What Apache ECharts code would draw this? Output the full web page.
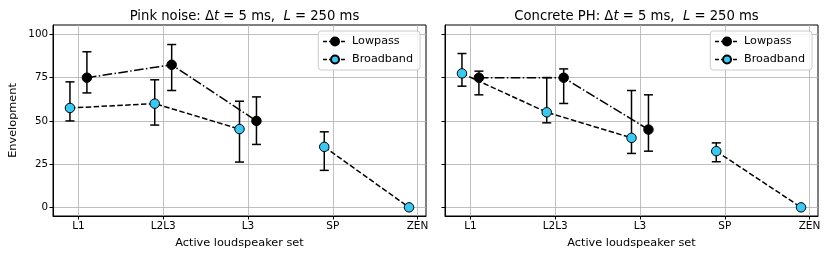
<!DOCTYPE html>
<html><head><meta charset="utf-8">
<script src="https://cdn.jsdelivr.net/npm/echarts@6/dist/echarts.min.js"></script>
<style>html,body{margin:0;padding:0;background:#fff}#c{width:830px;height:259px}</style>
</head><body><div id="c"></div>
<script>
const categories = ['L1','L2L3','L3','SP','ZEN'];
const yTicks = [0,25,50,75,100];
// Pink noise panel
const pinkLowpass = [75, 82.5, 50];
const pinkLowpassLo = [66.2, 67.6, 36.4];
const pinkLowpassHi = [90, 94.2, 63.9];
const pinkBroad = [57.5, 60, 45.3, 35, 0];
const pinkBroadLo = [50, 47.6, 26.2, 21.4, 0];
const pinkBroadHi = [72.6, 73.8, 61.4, 43.7, 0];
// Concrete PH panel
const concLowpass = [75, 75, 45];
const concLowpassLo = [65.1, 60.1, 32.5];
const concLowpassHi = [78.8, 80.1, 65.1];
const concBroad = [77.5, 55, 40.2, 32.5, 0];
const concBroadLo = [70.1, 48.9, 31.2, 26.4, 0];
const concBroadHi = [89, 75.1, 67.6, 37.3, 0];

const OFF = 0.1;
const FONT = 'DejaVu Sans';
const CYAN = '#38c9f5';
const DASH = [5.5, 2.4];
const DASHDOT = [9.6, 2.4, 1.5, 2.4];

function pts(vals, off, from, to) {
  const out = [];
  for (let i = from; i < to; i++) out.push([i + off, vals[i]]);
  return out;
}
function errData(vals, lo, hi, off) {
  return vals.map((v, i) => [i + off, lo[i], hi[i]]);
}
function errSeries(data, idx) {
  return {
    type: 'custom', xAxisIndex: idx, yAxisIndex: idx, z: 1, silent: true,
    data: data,
    renderItem: function (params, api) {
      const x = api.value(0), lo = api.value(1), hi = api.value(2);
      if (hi - lo <= 0) return null;
      const p1 = api.coord([x, lo]), p2 = api.coord([x, hi]);
      const c = 4.5;
      const st = { stroke: '#000', lineWidth: 1.5 };
      return { type: 'group', children: [
        { type: 'line', shape: { x1: p1[0], y1: p1[1], x2: p2[0], y2: p2[1] }, style: st },
        { type: 'line', shape: { x1: p1[0]-c, y1: p1[1], x2: p1[0]+c, y2: p1[1] }, style: st },
        { type: 'line', shape: { x1: p2[0]-c, y1: p2[1], x2: p2[0]+c, y2: p2[1] }, style: st }
      ]};
    }
  };
}
function lineSeries(name, data, idx, color, dash) {
  return {
    type: 'line', name: name, xAxisIndex: idx, yAxisIndex: idx, z: 3,
    data: data, symbol: 'circle', symbolSize: 9.5, animation: false,
    itemStyle: { color: color, borderColor: '#000', borderWidth: 1 },
    lineStyle: { color: '#000', width: 1.5, type: dash },
    emphasis: { disabled: true }
  };
}
function xAxis(idx) {
  return {
    type: 'value', gridIndex: idx, min: -0.3, max: 4.1,
    name: 'Active loudspeaker set', nameLocation: 'middle', nameGap: 22,
    nameTextStyle: { fontFamily: FONT, fontSize: 11.3, color: '#000' },
    axisLine: { show: true, onZero: false, lineStyle: { color: '#000', width: 1 } },
    axisTick: { show: true, length: 3.5, customValues: [0,1,2,3,4], lineStyle: { color: '#000' } },
    axisLabel: { customValues: [0,1,2,3,4], formatter: v => categories[Math.round(v)], fontFamily: FONT, fontSize: 10.5, color: '#000', margin: 5 },
    splitLine: { show: true, lineStyle: { color: '#b0b0b0', width: 0.8 } }
  };
}
function yAxis(idx) {
  return {
    type: 'value', gridIndex: idx, min: -5, max: 105.5,
    name: idx === 0 ? 'Envelopment' : '', nameLocation: 'middle', nameGap: 34,
    nameTextStyle: { fontFamily: FONT, fontSize: 11.3, color: '#000' },
    axisLine: { show: true, onZero: false, lineStyle: { color: '#000', width: 1 } },
    axisTick: { show: true, length: 3.5, customValues: yTicks, lineStyle: { color: '#000' } },
    axisLabel: { show: idx === 0, customValues: yTicks, fontFamily: FONT, fontSize: 10.3, color: '#000', margin: 5 },
    splitLine: { show: true, lineStyle: { color: '#b0b0b0', width: 0.8 } }
  };
}
function title(prefix, cx) {
  return {
    text: '{a|' + prefix + ': Δ}{i|t}{a| = 5 ms,  }{i|L}{a| = 250 ms}',
    left: cx, top: 5, textAlign: 'center',
    textStyle: { fontWeight: 'normal', rich: {
      a: { fontFamily: FONT, fontSize: 13.2, fontWeight: 'normal', color: '#000' },
      i: { fontFamily: FONT, fontSize: 13.2, fontWeight: 'normal', fontStyle: 'italic', color: '#000' }
    } }
  };
}
function legend(right) {
  return {
    right: right, top: 31, orient: 'vertical', itemWidth: 24, itemHeight: 10, itemGap: 7,
    backgroundColor: 'rgba(255,255,255,0.8)', borderColor: '#cccccc', borderWidth: 1, borderRadius: 3,
    padding: [5, 7, 5, 4],
    lineStyle: { type: [4, 2], width: 1.5 },
    textStyle: { fontFamily: FONT, fontSize: 11.2, color: '#000' },
    data: ['Lowpass', 'Broadband'], selectedMode: false
  };
}

const chart = echarts.init(document.getElementById('c'), null, { renderer: 'canvas' });
chart.setOption({
  animation: false,
  backgroundColor: '#fff',
  title: [title('Pink noise', 239.5), title('Concrete PH', 631.5)],
  legend: [legend(830 - 420), legend(830 - 812)],
  grid: [
    { left: 53, top: 25, width: 373, height: 191, show: true, borderColor: '#000', borderWidth: 1, backgroundColor: 'transparent' },
    { left: 445, top: 25, width: 373, height: 191, show: true, borderColor: '#000', borderWidth: 1, backgroundColor: 'transparent' }
  ],
  xAxis: [xAxis(0), xAxis(1)],
  yAxis: [yAxis(0), yAxis(1)],
  series: [
    errSeries(errData(pinkLowpass, pinkLowpassLo, pinkLowpassHi, OFF), 0),
    errSeries(errData(pinkBroad, pinkBroadLo, pinkBroadHi, -OFF), 0),
    lineSeries('Lowpass', pts(pinkLowpass, OFF, 0, 3), 0, '#000', DASHDOT),
    lineSeries('Broadband', pts(pinkBroad, -OFF, 0, 3), 0, CYAN, DASH),
    lineSeries('Broadband', pts(pinkBroad, -OFF, 3, 5), 0, CYAN, DASH),
    errSeries(errData(concLowpass, concLowpassLo, concLowpassHi, OFF), 1),
    errSeries(errData(concBroad, concBroadLo, concBroadHi, -OFF), 1),
    lineSeries('Lowpass', pts(concLowpass, OFF, 0, 3), 1, '#000', DASHDOT),
    lineSeries('Broadband', pts(concBroad, -OFF, 0, 3), 1, CYAN, DASH),
    lineSeries('Broadband', pts(concBroad, -OFF, 3, 5), 1, CYAN, DASH)
  ]
});
</script></body></html>
